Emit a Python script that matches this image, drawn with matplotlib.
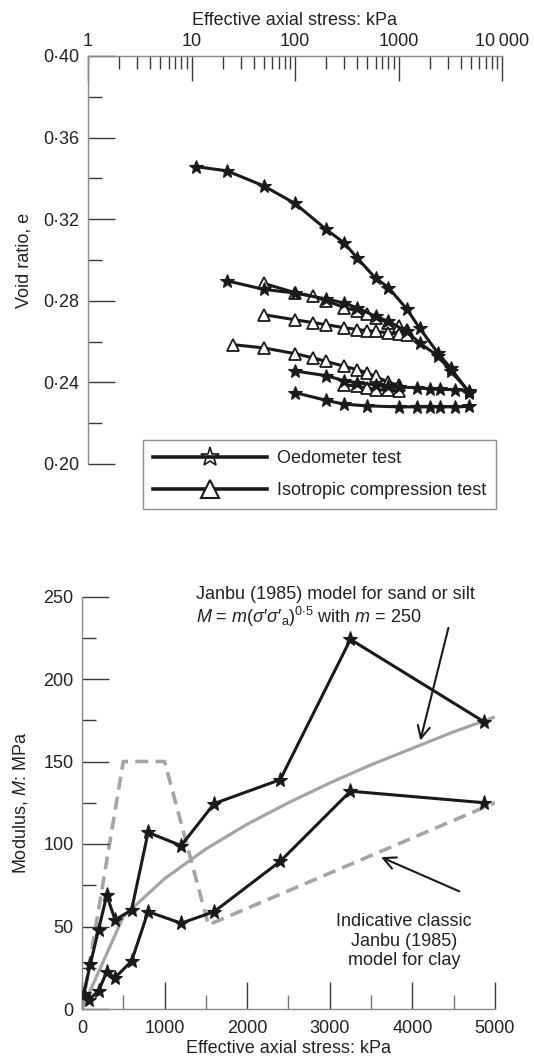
import matplotlib
matplotlib.use('Agg')
import matplotlib.pyplot as plt
from matplotlib.ticker import FixedLocator, FixedFormatter, NullFormatter
from matplotlib.lines import Line2D

plt.rcParams['font.family'] = ['Liberation Sans', 'DejaVu Sans']
plt.rcParams['mathtext.fontset'] = 'custom'
plt.rcParams['mathtext.rm'] = 'Liberation Sans'
plt.rcParams['mathtext.it'] = 'Liberation Sans:italic'
plt.rcParams['mathtext.bf'] = 'Liberation Sans:bold'

# ---------------- data: void ratio vs stress (top) ----------------
oed1_x = [11, 22, 50, 100, 200, 300, 400, 600, 800, 1200, 1600, 2400, 3200, 4800]
oed1_e = [0.3458, 0.3437, 0.3363, 0.3277, 0.3150, 0.3083, 0.3009, 0.2911, 0.2865,
          0.2760, 0.2666, 0.2544, 0.2470, 0.2350]
oed2_x = [22, 50, 100, 200, 300, 400, 600, 800, 1200, 1600, 2400, 3200, 4800]
oed2_e = [0.2898, 0.2856, 0.2838, 0.2809, 0.2789, 0.2765, 0.2724, 0.2699, 0.2650,
          0.2593, 0.2530, 0.2455, 0.2355]
oed3_x = [100, 200, 300, 400, 600, 800, 1000, 1500, 2000, 2500, 3500, 4800]
oed3_e = [0.2456, 0.2433, 0.2408, 0.2398, 0.2388, 0.2381, 0.2377, 0.2374, 0.2368,
          0.2366, 0.2364, 0.2360]
oed4_x = [100, 200, 300, 500, 1000, 1500, 2000, 2500, 3500, 4800]
oed4_e = [0.2350, 0.2312, 0.2293, 0.2285, 0.2280, 0.2280, 0.2280, 0.2280, 0.2280, 0.2282]

iso1_x = [50, 100, 150, 200, 300, 400, 500, 600, 800, 1000, 1200]
iso1_e = [0.2885, 0.2840, 0.2822, 0.2800, 0.2767, 0.2750, 0.2733, 0.2718, 0.2693, 0.2675, 0.2658]
iso2_x = [50, 100, 150, 200, 300, 400, 500, 600, 800, 1000, 1200]
iso2_e = [0.2732, 0.2707, 0.2693, 0.2683, 0.2668, 0.2659, 0.2654, 0.2650, 0.2643, 0.2638, 0.2634]
iso3_x = [25, 50, 100, 150, 200, 300, 400, 500, 600, 800, 1000]
iso3_e = [0.2585, 0.2569, 0.2541, 0.2520, 0.2503, 0.2479, 0.2462, 0.2446, 0.2429, 0.2400, 0.2387]
iso4_x = [300, 400, 500, 600, 800, 1000]
iso4_e = [0.2389, 0.2381, 0.2373, 0.2365, 0.2361, 0.2357]

top_xticks = [1, 10, 100, 1000, 10000]
top_xticklabels = ['1', '10', '100', '1000', '10\u2009000']
top_yticks = [0.20, 0.24, 0.28, 0.32, 0.36, 0.40]

# ---------------- data: modulus vs stress (bottom) ----------------
m_hi_x = [20, 100, 200, 300, 400, 600, 800, 1200, 1600, 2400, 3250, 4870]
m_hi = [9, 27, 48, 69, 54, 60, 107, 99, 124.5, 139, 224, 174]
m_lo_x = [80, 200, 300, 400, 600, 800, 1200, 1600, 2400, 3250, 4870]
m_lo = [5.5, 11, 22.5, 19, 29, 59, 52, 59, 89.5, 132, 125]

sand_x = [0, 500, 1000, 1500, 2000, 2500, 3000, 3500, 4000, 4500, 5000]
sand_M = [0, 56, 79, 97, 112, 125, 137, 148, 158, 168, 177]
clay_x = [0, 500, 1000, 1530, 5000]
clay_M = [0, 150, 150, 51, 125]

# ---------------- styling ----------------
BLACK = '#1a1a1a'
GRAY = '#a5a5a5'
SPINE = '#8a8a8a'
TICK = '#3a3a3a'
TXT = '#222222'
FS = 13

fig = plt.figure(figsize=(5.34, 10.57), dpi=100)
ax1 = fig.add_axes([88/534, 1-464/1057, 414/534, 408/1057])
ax2 = fig.add_axes([82/534, 1-1009/1057, 413/534, 412.5/1057])

# ---- top axes ----
star_kw = dict(color=BLACK, lw=2.2, marker='*', ms=10, mfc=BLACK, mec=BLACK, mew=0.8)
tri_kw = dict(color=BLACK, lw=2.2, marker='^', ms=8.5, mfc='white', mec=BLACK, mew=1.3)
for xs, es in [(iso1_x, iso1_e), (iso2_x, iso2_e), (iso3_x, iso3_e), (iso4_x, iso4_e)]:
    ax1.plot(xs, es, **tri_kw)
for xs, es in [(oed1_x, oed1_e), (oed2_x, oed2_e), (oed3_x, oed3_e), (oed4_x, oed4_e)]:
    ax1.plot(xs, es, **star_kw)

ax1.set_xscale('log')
ax1.set_xlim(1, 10000)
ax1.set_ylim(0.20, 0.40)
ax1.xaxis.tick_top()
ax1.xaxis.set_label_position('top')
ax1.xaxis.set_major_locator(FixedLocator(top_xticks))
ax1.xaxis.set_major_formatter(FixedFormatter(top_xticklabels))
minors = [m * 10**d for d in range(4) for m in range(2, 10)]
ax1.xaxis.set_minor_locator(FixedLocator(minors))
ax1.xaxis.set_minor_formatter(NullFormatter())
ax1.yaxis.set_major_locator(FixedLocator(top_yticks))
ax1.yaxis.set_major_formatter(FixedFormatter([f"{v:.2f}".replace('.', '\u00b7') for v in top_yticks]))
ax1.yaxis.set_minor_locator(FixedLocator([0.22, 0.26, 0.30, 0.34, 0.38]))
ax1.tick_params(axis='x', which='major', direction='in', length=18, width=1, color=TICK,
                top=True, bottom=False, labeltop=True, labelbottom=False, pad=4,
                labelsize=FS, labelcolor=TXT)
ax1.tick_params(axis='x', which='minor', direction='in', length=9.5, width=1, color=TICK,
                top=True, bottom=False)
ax1.tick_params(axis='y', which='major', direction='in', length=19.5, width=1, color=TICK,
                left=True, right=False, pad=6, labelsize=FS, labelcolor=TXT)
ax1.tick_params(axis='y', which='minor', direction='in', length=10, width=1, color=TICK,
                left=True, right=False)
for s in ['right', 'bottom']:
    ax1.spines[s].set_visible(False)
for s in ['top', 'left']:
    ax1.spines[s].set_color(SPINE)
    ax1.spines[s].set_linewidth(1)
ax1.set_xlabel('Effective axial stress: kPa', fontsize=FS, color=TXT, labelpad=6)
ax1.set_ylabel('Void ratio, e', fontsize=FS, color=TXT)
ax1.yaxis.set_label_coords(-0.135, 0.5)

h1 = Line2D([], [], color=BLACK, lw=2.6, marker='*', ms=14, mfc='none', mec=BLACK, mew=1.2)
h2 = Line2D([], [], color=BLACK, lw=2.6, marker='^', ms=13, mfc='white', mec=BLACK, mew=1.5)
leg = ax1.legend([h1, h2], ['Oedometer test', 'Isotropic compression test'],
                 loc='upper left', bbox_to_anchor=(55/414, 24/408),
                 bbox_transform=ax1.transAxes, frameon=True, fancybox=False,
                 edgecolor='#777777', handlelength=6.3, handletextpad=0.55,
                 borderpad=0.55, labelspacing=0.85, borderaxespad=0, numpoints=1,
                 fontsize=FS)
leg.get_frame().set_linewidth(1)
for t in leg.get_texts():
    t.set_color(TXT)

# ---- bottom axes ----
ax2.plot(sand_x, sand_M, color=GRAY, lw=2.3, zorder=1, solid_capstyle='butt')
ax2.plot(clay_x, clay_M, color=GRAY, lw=2.6, dashes=(3.6, 2.0), zorder=1)
ax2.plot(m_hi_x, m_hi, color=BLACK, lw=2.2, marker='*', ms=11, mfc=BLACK, mec=BLACK,
         mew=0.8, zorder=3)
ax2.plot(m_lo_x, m_lo, color=BLACK, lw=2.2, marker='*', ms=11, mfc=BLACK, mec=BLACK,
         mew=0.8, zorder=3)

ax2.set_xlim(0, 5000)
ax2.set_ylim(0, 250)
ax2.xaxis.set_major_locator(FixedLocator([0, 1000, 2000, 3000, 4000, 5000]))
ax2.xaxis.set_minor_locator(FixedLocator([500, 1500, 2500, 3500, 4500]))
ax2.yaxis.set_major_locator(FixedLocator([0, 50, 100, 150, 200, 250]))
ax2.yaxis.set_minor_locator(FixedLocator([25, 75, 125, 175, 225]))
ax2.tick_params(axis='x', which='major', direction='in', length=19.5, width=1, color=TICK,
                top=False, pad=8, labelsize=FS, labelcolor=TXT)
ax2.tick_params(axis='x', which='minor', direction='in', length=10, width=1, color='#777777',
                top=False)
ax2.tick_params(axis='y', which='major', direction='in', length=19.5, width=1, color=TICK,
                right=False, pad=6, labelsize=FS, labelcolor=TXT)
ax2.tick_params(axis='y', which='minor', direction='in', length=10, width=1, color=TICK,
                right=False)
for s in ['right', 'top']:
    ax2.spines[s].set_visible(False)
for s in ['bottom', 'left']:
    ax2.spines[s].set_color(SPINE)
    ax2.spines[s].set_linewidth(1)
ax2.set_xlabel('Effective axial stress: kPa', fontsize=FS, color=TXT, labelpad=2)
ax2.set_ylabel(r'Modulus, $M$: MPa', fontsize=FS, color=TXT)
ax2.yaxis.set_label_coords(-0.126, 0.5)

ax2.text(1379, 251.2, 'Janbu (1985) model for sand or silt', fontsize=FS, color=TXT,
         ha='left', va='center')
ax2.text(1379, 237.5,
         "$M$ = $m$($\\sigma$\u2032$\\sigma$\u2032$_{\\mathrm{a}}$)$^{0{\\cdot}5}$ with $m$ = 250",
         fontsize=FS, color=TXT, ha='left', va='center')
ax2.text(3901, 41.2, 'Indicative classic\nJanbu (1985)\nmodel for clay', fontsize=FS,
         color=TXT, ha='center', va='center', linespacing=1.2)
ax2.annotate('', xy=(4095, 162.7), xytext=(4436, 231),
             arrowprops=dict(arrowstyle='->', color=BLACK, lw=1.5, mutation_scale=22,
                             shrinkA=0, shrinkB=0))
ax2.annotate('', xy=(3621, 92), xytext=(4568, 71.3),
             arrowprops=dict(arrowstyle='->', color=BLACK, lw=1.5, mutation_scale=22,
                             shrinkA=0, shrinkB=0))

fig.savefig('out.png', dpi=100)
